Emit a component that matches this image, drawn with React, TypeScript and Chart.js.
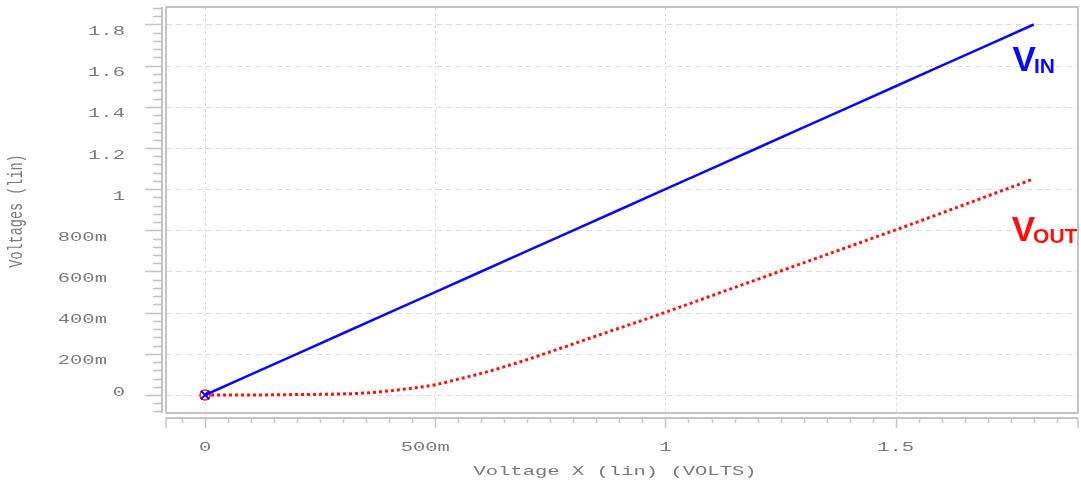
import React, { useEffect, useRef } from 'react';
import { Chart, registerables } from 'chart.js';

Chart.register(...registerables);

// ---------- data ----------
const VIN_X = [0, 0.1, 0.2, 0.3, 0.4, 0.5, 0.6, 0.7, 0.8, 0.9, 1.0, 1.1, 1.2, 1.3, 1.4, 1.5, 1.6, 1.7, 1.8];
const VIN_Y = [0, 0.1, 0.2, 0.3, 0.4, 0.5, 0.6, 0.7, 0.8, 0.9, 1.0, 1.1, 1.2, 1.3, 1.4, 1.5, 1.6, 1.7, 1.8];

const VOUT_X = [0, 0.05, 0.1, 0.15, 0.2, 0.25, 0.3, 0.35, 0.4, 0.45, 0.5, 0.55, 0.6, 0.65, 0.7, 0.75, 0.8, 0.85, 0.9, 0.95, 1.0, 1.1, 1.2, 1.3, 1.4, 1.5, 1.6, 1.7, 1.8];
const VOUT_Y = [0, 0, 0, 0.001, 0.002, 0.003, 0.005, 0.01, 0.02, 0.033, 0.05, 0.077, 0.105, 0.137, 0.172, 0.21, 0.248, 0.287, 0.325, 0.363, 0.402, 0.482, 0.562, 0.642, 0.722, 0.802, 0.884, 0.967, 1.05];

const X_TICKS = [0, 0.5, 1, 1.5];
const X_TICK_LABELS = ['0', '500m', '1', '1.5'];
const Y_TICKS = [0, 0.2, 0.4, 0.6, 0.8, 1, 1.2, 1.4, 1.6, 1.8];
const Y_TICK_LABELS = ['0', '200m', '400m', '600m', '800m', '1', '1.2', '1.4', '1.6', '1.8'];
const X_MINOR_STEP = 0.05;
const Y_MINOR_STEP = 0.04;

const X_TITLE = 'Voltage X (lin) (VOLTS)';
const Y_TITLE = 'Voltages (lin)';
const VIN_LABEL = ['V', 'IN'];
const VOUT_LABEL = ['V', 'OUT'];

const X_MIN = -0.0848;
const X_MAX = 1.896;
const Y_MIN = -0.0875;
const Y_MAX = 1.885;

// ---------- styles ----------
const BLUE = '#0a0af5';
const RED = '#ff1010';
const TEXT_GRAY = '#7a7a7a';
const AXIS_GRAY = '#c4c4c4';
const GRID_GRAY = '#dcdcdc';
const MONO = '13.5px "Liberation Mono", monospace';
const STRETCH = 1.52;

function stretchedText(ctx: CanvasRenderingContext2D, text: string, x: number, y: number, align: 'left' | 'right' | 'center') {
  ctx.save();
  ctx.font = MONO;
  const w = ctx.measureText(text).width * STRETCH;
  const left = align === 'left' ? x : align === 'right' ? x - w : x - w / 2;
  ctx.translate(left, y);
  ctx.scale(STRETCH, 1);
  ctx.textAlign = 'left';
  ctx.textBaseline = 'middle';
  ctx.fillStyle = TEXT_GRAY;
  ctx.fillText(text, 0, 0);
  ctx.restore();
}

function isMultiple(v: number, step: number) {
  const r = v / step;
  return Math.abs(r - Math.round(r)) < 1e-6;
}

const decorPlugin = {
  id: 'decor',
  beforeDatasetsDraw(chart: any) {
    const { ctx, chartArea: a, scales } = chart;
    const xs = scales.x;
    const ys = scales.y;
    ctx.save();

    // grid
    ctx.lineWidth = 1;
    ctx.strokeStyle = GRID_GRAY;
    ctx.setLineDash([6, 4]);
    Y_TICKS.forEach((v) => {
      const y = Math.round(ys.getPixelForValue(v)) + 0.5;
      ctx.beginPath();
      ctx.moveTo(a.left, y);
      ctx.lineTo(a.right, y);
      ctx.stroke();
    });
    ctx.setLineDash([3, 3]);
    X_TICKS.forEach((v) => {
      const x = Math.round(xs.getPixelForValue(v)) + 0.5;
      ctx.beginPath();
      ctx.moveTo(x, a.top);
      ctx.lineTo(x, a.bottom);
      ctx.stroke();
    });
    ctx.setLineDash([]);

    // frame
    ctx.strokeStyle = AXIS_GRAY;
    ctx.lineWidth = 2;
    ctx.strokeRect(a.left, a.top, a.right - a.left, a.bottom - a.top);

    // y axis line + ticks
    const yAxisX = a.left - 4;
    ctx.beginPath();
    ctx.moveTo(yAxisX, a.top);
    ctx.lineTo(yAxisX, a.bottom);
    ctx.stroke();
    ctx.lineWidth = 1.5;
    const yStart = Math.ceil(Y_MIN / Y_MINOR_STEP) * Y_MINOR_STEP;
    for (let v = yStart; v <= Y_MAX + 1e-9; v += Y_MINOR_STEP) {
      const major = isMultiple(v, 0.2);
      const y = Math.round(ys.getPixelForValue(v)) + 0.5;
      ctx.beginPath();
      ctx.moveTo(yAxisX, y);
      ctx.lineTo(yAxisX - (major ? 17 : 9), y);
      ctx.stroke();
    }

    // x axis line + ticks
    const xAxisY = a.bottom + 5;
    ctx.lineWidth = 2;
    ctx.beginPath();
    ctx.moveTo(a.left, xAxisY);
    ctx.lineTo(a.right, xAxisY);
    ctx.stroke();
    ctx.lineWidth = 1.5;
    const xStart = Math.ceil(X_MIN / X_MINOR_STEP) * X_MINOR_STEP;
    for (let v = xStart; v <= X_MAX + 1e-9; v += X_MINOR_STEP) {
      const major = isMultiple(v, 0.5);
      const x = Math.round(xs.getPixelForValue(v)) + 0.5;
      ctx.beginPath();
      ctx.moveTo(x, xAxisY);
      ctx.lineTo(x, xAxisY + (major ? 10 : 5));
      ctx.stroke();
    }
    [a.left, a.right].forEach((x) => {
      ctx.beginPath();
      ctx.moveTo(x, xAxisY);
      ctx.lineTo(x, xAxisY + 10);
      ctx.stroke();
    });

    // tick labels
    Y_TICKS.forEach((v, i) => {
      const lbl = Y_TICK_LABELS[i];
      const y = ys.getPixelForValue(v) + (v === 0 ? -3 : 7);
      const right = a.left - (lbl.endsWith('m') ? 59 : 41);
      stretchedText(ctx, lbl, right, y, 'right');
    });
    X_TICKS.forEach((v, i) => {
      const lbl = X_TICK_LABELS[i];
      const x = xs.getPixelForValue(v) - (lbl.endsWith('m') ? 10 : 0);
      stretchedText(ctx, lbl, x, a.bottom + 34.5, 'center');
    });

    // axis titles
    stretchedText(ctx, X_TITLE, (a.left + a.right) / 2 - 7, a.bottom + 58, 'center');
    ctx.save();
    ctx.font = MONO;
    ctx.fillStyle = TEXT_GRAY;
    ctx.translate(17, 211);
    ctx.scale(STRETCH, 1);
    ctx.rotate(-Math.PI / 2);
    ctx.textAlign = 'center';
    ctx.textBaseline = 'middle';
    ctx.fillText(Y_TITLE, 0, 0);
    ctx.restore();

    ctx.restore();
  },
  afterDatasetsDraw(chart: any) {
    const { ctx, scales } = chart;
    const xs = scales.x;
    const ys = scales.y;
    const drawLabel = (parts: string[], xv: number, yv: number, color: string, subDrop: number) => {
      const x = xs.getPixelForValue(xv);
      const y = ys.getPixelForValue(yv);
      ctx.save();
      ctx.fillStyle = color;
      ctx.textBaseline = 'alphabetic';
      ctx.textAlign = 'left';
      ctx.font = 'bold 35px "Liberation Sans", Arial, sans-serif';
      ctx.fillText(parts[0], x, y);
      const w = ctx.measureText(parts[0]).width;
      ctx.font = 'bold 21px "Liberation Sans", Arial, sans-serif';
      ctx.fillText(parts[1], x + w - 2, y + subDrop);
      ctx.restore();
    };
    drawLabel(VIN_LABEL, 1.754, 1.575, BLUE, 2);
    drawLabel(VOUT_LABEL, 1.752, 0.748, RED, 2);
  },
};

export default function App() {
  const ref = useRef<HTMLCanvasElement | null>(null);
  useEffect(() => {
    if (!ref.current) return;
    const chart = new Chart(ref.current, {
      type: 'line',
      data: {
        datasets: [
          {
            label: 'VIN',
            data: VIN_X.map((x, i) => ({ x, y: VIN_Y[i] })),
            borderColor: BLUE,
            backgroundColor: BLUE,
            borderWidth: 2.5,
            pointRadius: VIN_X.map((_, i) => (i === 0 ? 6 : 0)),
            pointStyle: 'crossRot',
            pointBorderWidth: 2,
            pointBorderColor: BLUE,
            tension: 0,
          },
          {
            label: 'VOUT',
            data: VOUT_X.map((x, i) => ({ x, y: VOUT_Y[i] })),
            borderColor: RED,
            backgroundColor: 'transparent',
            borderWidth: 3,
            borderDash: [3, 3],
            cubicInterpolationMode: 'monotone',
            pointRadius: VOUT_X.map((_, i) => (i === 0 ? 5 : 0)),
            pointStyle: 'circle',
            pointBorderWidth: 1.5,
            pointBorderColor: RED,
          },
        ],
      },
      options: {
        animation: false,
        responsive: false,
        maintainAspectRatio: false,
        layout: { autoPadding: false, padding: { left: 166, top: 7, right: 3, bottom: 70 } },
        plugins: { legend: { display: false }, tooltip: { enabled: false } },
        scales: {
          x: { type: 'linear', display: false, min: X_MIN, max: X_MAX },
          y: { type: 'linear', display: false, min: Y_MIN, max: Y_MAX },
        },
      },
      plugins: [decorPlugin],
    });
    return () => chart.destroy();
  }, []);
  return (
    <div style={{ position: 'fixed', left: 0, top: 0, width: 1081, height: 483, background: '#fff' }}>
      <canvas ref={ref} width={1081} height={483} style={{ width: 1081, height: 483, display: 'block' }} />
    </div>
  );
}
